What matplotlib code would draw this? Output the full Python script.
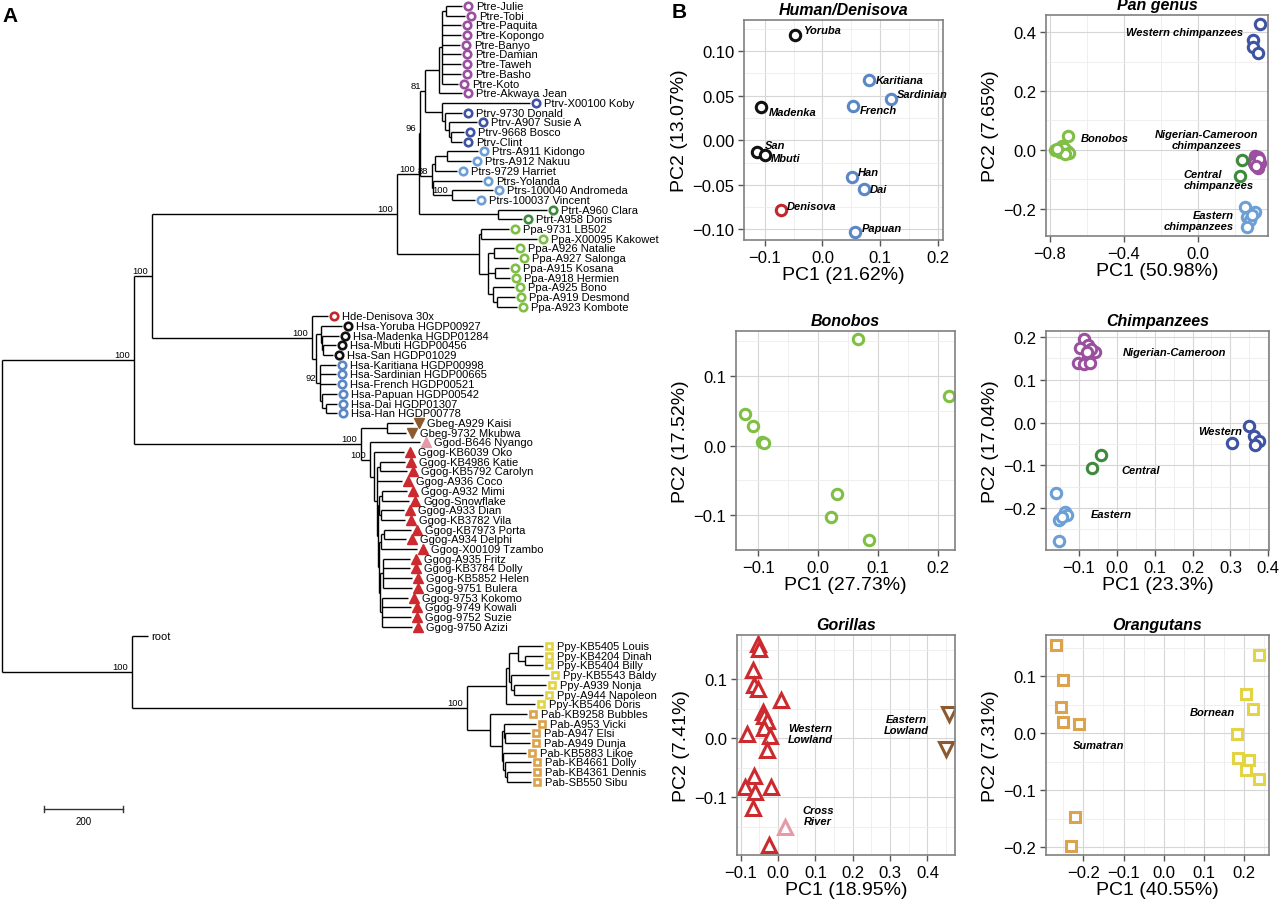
import numpy as np
import matplotlib
matplotlib.use('Agg')
import matplotlib.pyplot as plt
import matplotlib.transforms as mtransforms
from matplotlib.collections import LineCollection
from matplotlib.ticker import FixedLocator, AutoMinorLocator, FuncFormatter

plt.rcParams['font.family'] = ['Liberation Sans', 'DejaVu Sans']

# ---------------- tree data (newick pieces, branch lengths in tree units) ----------------
ptre_nwk = ("(((Ptre-Julie:40,Ptre-Tobi:48):10,Ptre-Paquita:48,Ptre-Kopongo:48,Ptre-Banyo:46,"
            "Ptre-Damian:48,Ptre-Taweh:48,Ptre-Basho:48,Ptre-Koto:40):8,Ptre-Akwaya Jean:58):35")
ptrv_nwk = ("(Ptrv-X00100 Koby:223,(Ptrv-9730 Donald:43,(Ptrv-A907 Susie A:71,"
            "(Ptrv-9668 Bosco:35,Ptrv-Clint:30):5):8):8):43")
ptrs_nwk = ("(((Ptrs-A911 Kidongo:78,Ptrs-A912 Nakuu:61):30,Ptrs-9729 Harriet:56):8,"
            "(Ptrs-Yolanda:124,(Ptrs-100040 Andromeda:104,Ptrs-100037 Vincent:58)100:48):3)88:30")
ptrt_nwk = "(Ptrt-A960 Clara:124,Ptrt-A958 Doris:61):200"
ppa_nwk = ("((Ppa-9731 LB502:73,Ppa-X00095 Kakowet:142):5,((Ppa-A926 Natalie:51,Ppa-A927 Salonga:61):15,"
           "(Ppa-A915 Kosana:35,Ppa-A918 Hermien:38):18,(Ppa-A925 Bono:53,"
           "(Ppa-A919 Desmond:46,Ppa-A923 Kombote:51):10):13):23):207")
homo_nwk = ("(Hde-Denisova 30x:40,((Hsa-Yoruba HGDP00927:53,(Hsa-Madenka HGDP01284:43,"
            "(Hsa-Mbuti HGDP00456:33,Hsa-San HGDP01029:25):3):3):13,(Hsa-Karitiana HGDP00998:40,"
            "Hsa-Sardinian HGDP00665:40,Hsa-French HGDP00521:40,(Hsa-Papuan HGDP00542:38,"
            "(Hsa-Dai HGDP01307:28,Hsa-Han HGDP00778:28):10):5)92:10):10)100:405")
gorilla_nwk = ("((Gbeg-A929 Kaisi:66,Gbeg-9732 Mkubwa:48):68,(Ggod-B646 Nyango:126,(Ggog-KB6039 Oko:76,"
               "((Ggog-KB4986 Katie:63,Ggog-KB5792 Carolyn:68):8,Ggog-A936 Coco:63,"
               "(((Ggog-A932 Mimi:63,Ggog-Snowflake:68):8,(Ggog-A933 Dian:58,Ggog-KB3782 Vila:61):5):3,"
               "(((Ggog-KB7973 Porta:68,Ggog-A934 Delphi:56):8,Ggog-X00109 Tzambo:91):5,"
               "((Ggog-A935 Fritz:66,Ggog-KB3784 Dolly:68,Ggog-KB5852 Helen:71,Ggog-9751 Bulera:73):8,"
               "(Ggog-9753 Kokomo:66,Ggog-9749 Kowali:73,Ggog-9752 Suzie:73,Ggog-9750 Azizi:76):5):3):3):3):8):8)100:25)100:574")
ppy_nwk = ("(((Ppy-KB5405 Louis:63,(Ppy-KB4204 Dinah:46,Ppy-KB5404 Billy:46):18):23,"
           "(Ppy-KB5543 Baldy:96,(Ppy-A939 Nonja:81,Ppy-A944 Napoleon:73):8):5):8,Ppy-KB5406 Doris:73):99")
pab_nwk = ("(Pab-KB9258 Bubbles:94,((Pab-A953 Vicki:83,(Pab-A947 Elsi:63,Pab-A949 Dunja:63):5):5,"
           "(Pab-KB5883 Likoe:58,(Pab-KB4661 Dolly:66,(Pab-KB4361 Dennis:61,Pab-SB550 Sibu:61):5):5):3):30):58")

chimp_nwk = f"((({ptre_nwk},{ptrv_nwk})81:13,{ptrs_nwk})96:3,{ptrt_nwk})100:56"
pan_nwk = f"({chimp_nwk},{ppa_nwk})100:620"
ape_nwk = f"(({pan_nwk},{homo_nwk})100:46,{gorilla_nwk})100:334"
outgroup_nwk = f"(root:40,({ppy_nwk},{pab_nwk})100:848)100:329"
tree_nwk = f"({ape_nwk},{outgroup_nwk});"

scale_bar_len = 200

african = ['Yoruba', 'Madenka', 'Mbuti', 'San']

# ---------------- PCA data ----------------
human_pops = ['Yoruba', 'Madenka', 'San', 'Mbuti', 'Karitiana', 'Sardinian', 'French', 'Han', 'Dai', 'Denisova', 'Papuan']
human_pc1 = [-0.048, -0.106, -0.113, -0.100, 0.080, 0.119, 0.053, 0.051, 0.072, -0.072, 0.057]
human_pc2 = [0.118, 0.037, -0.013, -0.017, 0.068, 0.046, 0.038, -0.041, -0.055, -0.078, -0.103]
human_group = ['afr', 'afr', 'afr', 'afr', 'nonafr', 'nonafr', 'nonafr', 'nonafr', 'nonafr', 'den', 'nonafr']

pan_pc1 = [0.335, 0.299, 0.296, 0.323,
           -0.701, -0.737, -0.773, -0.746, -0.710, -0.725, -0.700, -0.720, -0.760,
           0.310, 0.325, 0.300, 0.320, 0.335, 0.310, 0.325, 0.300, 0.330, 0.315,
           0.236, 0.227,
           0.254, 0.308, 0.263, 0.281, 0.267, 0.290]
pan_pc2 = [0.427, 0.374, 0.348, 0.329,
           0.049, 0.015, 0.001, -0.008, -0.005, 0.005, -0.012, -0.015, 0.002,
           -0.020, -0.025, -0.035, -0.040, -0.045, -0.050, -0.060, -0.045, -0.030, -0.055,
           -0.033, -0.087,
           -0.194, -0.210, -0.227, -0.238, -0.262, -0.220]
pan_group = ['ptrv'] * 4 + ['ppa'] * 9 + ['ptre'] * 10 + ['ptrt'] * 2 + ['ptrs'] * 6

bonobo_pc1 = [0.066, 0.218, -0.122, -0.109, -0.094, -0.090, 0.031, 0.022, 0.085]
bonobo_pc2 = [0.153, 0.072, 0.046, 0.029, 0.006, 0.004, -0.070, -0.102, -0.136]

chimp_pc1 = [-0.087, -0.075, -0.096, -0.058, -0.075, -0.102, -0.086, -0.067, -0.080, -0.070,
             0.350, 0.303, 0.363, 0.375, 0.366,
             -0.043, -0.066,
             -0.161, -0.137, -0.153, -0.132, -0.152, -0.145]
chimp_pc2 = [0.195, 0.181, 0.175, 0.166, 0.150, 0.140, 0.138, 0.173, 0.165, 0.140,
             -0.008, -0.049, -0.031, -0.044, -0.053,
             -0.077, -0.106,
             -0.164, -0.208, -0.227, -0.217, -0.276, -0.220]
chimp_group = ['ptre'] * 10 + ['ptrv'] * 5 + ['ptrt'] * 2 + ['ptrs'] * 6

gorilla_pc1 = [-0.053, -0.050, -0.068, -0.064, -0.053, 0.007, -0.041, -0.039, -0.029, -0.039,
               -0.082, -0.021, -0.029, -0.064, -0.088, -0.062, -0.020, -0.066, -0.023,
               0.019, 0.457, 0.450]
gorilla_pc2 = [0.159, 0.152, 0.116, 0.090, 0.084, 0.065, 0.044, 0.038, 0.029, 0.018,
               0.007, 0.004, -0.020, -0.064, -0.083, -0.091, -0.083, -0.119, -0.181,
               -0.150, 0.041, -0.019]
gorilla_group = ['ggog'] * 19 + ['ggod'] + ['gbeg'] * 2

orang_pc1 = [-0.268, -0.250, -0.256, -0.250, -0.212, -0.222, -0.231,
             0.238, 0.204, 0.221, 0.182, 0.186, 0.213, 0.206, 0.238]
orang_pc2 = [0.154, 0.093, 0.045, 0.019, 0.015, -0.147, -0.198,
             0.137, 0.068, 0.043, -0.002, -0.043, -0.047, -0.065, -0.081]
orang_group = ['pab'] * 7 + ['ppy'] * 8

colors = {
    'ptre': '#9b4f9f', 'ptrv': '#3f52a3', 'ptrs': '#6b9fd6', 'ptrt': '#3d8a3d', 'ppa': '#80bf45',
    'den': '#c1272d', 'afr': '#111111', 'nonafr': '#5b87c6',
    'ggog': '#cc2a2e', 'ggod': '#e59aa8', 'gbeg': '#8c5a2e', 'ppy': '#e3d443', 'pab': '#dca24c',
}
markers = {'ptre': 'o', 'ptrv': 'o', 'ptrs': 'o', 'ptrt': 'o', 'ppa': 'o', 'den': 'o', 'afr': 'o',
           'nonafr': 'o', 'ggog': '^', 'ggod': '^', 'gbeg': 'v', 'ppy': 's', 'pab': 's'}


def parse_newick(s):
    pos = 0

    def node():
        nonlocal pos
        children = []
        if s[pos] == '(':
            pos += 1
            children.append(node())
            while s[pos] == ',':
                pos += 1
                children.append(node())
            pos += 1
        start = pos
        while s[pos] not in ':,);':
            pos += 1
        name = s[start:pos].strip()
        length = 0.0
        if s[pos] == ':':
            pos += 1
            start = pos
            while s[pos] not in ',);':
                pos += 1
            length = float(s[start:pos])
        return {'name': name, 'len': length, 'children': children}

    return node()


def layout(nd, x0, leaves):
    nd['x'] = x0 + nd['len']
    if nd['children']:
        for c in nd['children']:
            layout(c, nd['x'], leaves)
        nd['y'] = (nd['children'][0]['y'] + nd['children'][-1]['y']) / 2
    else:
        nd['y'] = len(leaves)
        leaves.append(nd)


def leaf_group(name):
    pre = name.split('-')[0]
    if pre == 'Hsa':
        return 'afr' if name.split('-')[1].split()[0] in african else 'nonafr'
    if pre == 'Hde':
        return 'den'
    return pre.lower()


fig = plt.figure(figsize=(12.8, 9.04), dpi=100)

# ---------------- panel A: tree ----------------
axt = fig.add_axes([0, 0, 620 / 1280, 1])
axt.set_xlim(-5.1, 1565)
axt.set_ylim(92.5, -0.72)
axt.axis('off')

tree = parse_newick(tree_nwk)
leaves = []
layout(tree, 0.0, leaves)

segs = []


def collect(nd):
    if not nd['children']:
        return
    ys = [c['y'] for c in nd['children']]
    segs.append([(nd['x'], ys[0]), (nd['x'], ys[-1])])
    for c in nd['children']:
        segs.append([(nd['x'], c['y']), (c['x'], c['y'])])
        collect(c)
    if nd['name']:
        axt.annotate(nd['name'], (nd['x'], nd['y']), xytext=(-4, 1), textcoords='offset pixels',
                     ha='right', va='bottom', fontsize=6.8, clip_on=False)


collect(tree)
axt.add_collection(LineCollection(segs, colors='black', linewidths=1.0))

mk_tr = mtransforms.offset_copy(axt.transData, fig=fig, x=6, y=0, units='dots')
tx_tr = mtransforms.offset_copy(axt.transData, fig=fig, x=14, y=0, units='dots')
root_tr = mtransforms.offset_copy(axt.transData, fig=fig, x=4, y=0, units='dots')
for lf in leaves:
    if lf['name'] == 'root':
        axt.text(lf['x'], lf['y'], 'root', transform=root_tr, va='center', fontsize=8, clip_on=False)
        continue
    g = leaf_group(lf['name'])
    m = markers[g]
    ms = 5.4 if m == 'o' else (6.5 if m in '^v' else 5.0)
    if m in '^v':
        axt.plot(lf['x'], lf['y'], marker=m, ms=ms, mfc=colors[g], mec=colors[g], mew=1.0,
                 transform=mk_tr, clip_on=False)
    else:
        axt.plot(lf['x'], lf['y'], marker=m, ms=ms, mfc='white', mec=colors[g], mew=1.9,
                 transform=mk_tr, clip_on=False)
    axt.text(lf['x'], lf['y'], lf['name'], transform=tx_tr, va='center', fontsize=8, clip_on=False)

# scale bar
sb_x0, sb_y = 106, 82.8
axt.plot([sb_x0, sb_x0 + scale_bar_len], [sb_y, sb_y], color='#333333', lw=1.0)
axt.plot([sb_x0, sb_x0], [sb_y - 0.35, sb_y + 0.35], color='#333333', lw=1.0)
axt.plot([sb_x0 + scale_bar_len, sb_x0 + scale_bar_len], [sb_y - 0.35, sb_y + 0.35], color='#333333', lw=1.0)
axt.text(sb_x0 + scale_bar_len / 2, sb_y + 1.2, str(scale_bar_len), ha='center', va='center', fontsize=7)

fig.text(2 / 1280, 1 - 16 / 904, 'A', fontsize=15, fontweight='bold', va='center')
fig.text(672 / 1280, 1 - 12 / 904, 'B', fontsize=15, fontweight='bold', va='center')

# ---------------- panel B: PCA ----------------


def fmt(n):
    return FuncFormatter(lambda v, p: f'{v:.{n}f}'.replace('-', '\u2212'))


def pca_axes(box, title, xlabel, ylabel, xlim, ylim, xticks, yticks, xd=1, yd=1):
    left, right, top, bottom = box
    ax = fig.add_axes([left / 1280, 1 - bottom / 904, (right - left) / 1280, (bottom - top) / 904])
    ax.set_xlim(xlim)
    ax.set_ylim(ylim)
    ax.xaxis.set_major_locator(FixedLocator(xticks))
    ax.yaxis.set_major_locator(FixedLocator(yticks))
    ax.xaxis.set_major_formatter(fmt(xd))
    ax.yaxis.set_major_formatter(fmt(yd))
    ax.xaxis.set_minor_locator(AutoMinorLocator(2))
    ax.yaxis.set_minor_locator(AutoMinorLocator(2))
    ax.grid(which='major', color='#d6d6d6', lw=0.8)
    ax.grid(which='minor', color='#ededed', lw=0.6)
    ax.set_axisbelow(True)
    for sp in ax.spines.values():
        sp.set_color('#808080')
        sp.set_linewidth(1.2)
    ax.tick_params(which='major', length=4, width=1, color='#555555', labelsize=12, pad=3, labelcolor='black')
    ax.tick_params(which='minor', length=0)
    ax.set_title(title, fontsize=11.5, fontweight='bold', style='italic', pad=4)
    ax.set_xlabel(xlabel, fontsize=14, labelpad=1)
    ax.set_ylabel(ylabel, fontsize=14, labelpad=3)
    return ax


def scatter_groups(ax, pc1, pc2, groups, ms=7.5, mew=2.2):
    pc1, pc2, groups = np.asarray(pc1), np.asarray(pc2), np.asarray(groups)
    for g in dict.fromkeys(groups):
        sel = groups == g
        m = markers[g]
        size = ms + (2.3 if m in '^v' else 0) - (0.5 if m == 's' else 0)
        ax.plot(pc1[sel], pc2[sel], ls='none', marker=m, ms=size, mfc='white', mec=colors[g], mew=mew)


lab_kw = dict(fontsize=8, fontweight='bold', style='italic')

# Human / Denisova
ax = pca_axes((744, 943, 21, 241), 'Human/Denisova', 'PC1 (21.62%)', 'PC2 (13.07%)',
              (-0.136, 0.209), (-0.112, 0.135), [-0.1, 0.0, 0.1, 0.2], [-0.1, -0.05, 0.0, 0.05, 0.1], 1, 2)
scatter_groups(ax, human_pc1, human_pc2, human_group)
human_offsets = [(8, 5), (7, -5), (8, 7), (6, -3), (7, 0), (6, 5), (7, -4), (6, 5), (6, 0), (6, 4), (6, 4)]
for name, x, y, off in zip(human_pops, human_pc1, human_pc2, human_offsets):
    ax.annotate(name, (x, y), xytext=off, textcoords='offset pixels', ha='left', va='center', **lab_kw)

# Pan genus
ax = pca_axes((1046, 1268, 16, 237), 'Pan genus', 'PC1 (50.98%)', 'PC2 (7.65%)',
              (-0.822, 0.378), (-0.292, 0.458), [-0.8, -0.4, 0.0], [-0.2, 0.0, 0.2, 0.4])
scatter_groups(ax, pan_pc1, pan_pc2, pan_group)
pan_labels = ['Western chimpanzees', 'Bonobos', 'Nigerian-Cameroon\nchimpanzees', 'Central\nchimpanzees',
              'Eastern\nchimpanzees']
pan_lab_x = [0.243, -0.632, 0.045, -0.08, 0.195]
pan_lab_y = [0.40, 0.04, 0.035, -0.10, -0.24]
pan_lab_ha = ['right', 'left', 'center', 'left', 'right']
for t, x, y, ha in zip(pan_labels, pan_lab_x, pan_lab_y, pan_lab_ha):
    ax.text(x, y, t, ha=ha, va='center', multialignment=ha, linespacing=1.1, **lab_kw)

# Bonobos
ax = pca_axes((736, 955, 332, 551), 'Bonobos', 'PC1 (27.73%)', 'PC2 (17.52%)',
              (-0.137, 0.228), (-0.150, 0.165), [-0.1, 0.0, 0.1, 0.2], [-0.1, 0.0, 0.1])
scatter_groups(ax, bonobo_pc1, bonobo_pc2, ['ppa'] * len(bonobo_pc1))

# Chimpanzees
ax = pca_axes((1046, 1269, 332, 551), 'Chimpanzees', 'PC1 (23.3%)', 'PC2 (17.04%)',
              (-0.187, 0.402), (-0.298, 0.214), [-0.1, 0.0, 0.1, 0.2, 0.3, 0.4], [-0.2, -0.1, 0.0, 0.1, 0.2])
scatter_groups(ax, chimp_pc1, chimp_pc2, chimp_group)
chimp_labels = ['Nigerian-Cameroon', 'Western', 'Central', 'Eastern']
chimp_lab_x = [0.016, 0.33, 0.013, -0.068]
chimp_lab_y = [0.166, -0.019, -0.11, -0.215]
chimp_lab_ha = ['left', 'right', 'left', 'left']
for t, x, y, ha in zip(chimp_labels, chimp_lab_x, chimp_lab_y, chimp_lab_ha):
    ax.text(x, y, t, ha=ha, va='center', **lab_kw)

# Gorillas
ax = pca_axes((737, 955, 636, 856), 'Gorillas', 'PC1 (18.95%)', 'PC2 (7.41%)',
              (-0.11, 0.474), (-0.198, 0.175), [-0.1, 0.0, 0.1, 0.2, 0.3, 0.4], [-0.1, 0.0, 0.1])
scatter_groups(ax, gorilla_pc1, gorilla_pc2, gorilla_group)
gor_labels = ['Western\nLowland', 'Eastern\nLowland', 'Cross\nRiver']
gor_lab_x = [0.086, 0.343, 0.107]
gor_lab_y = [0.008, 0.023, -0.131]
for t, x, y in zip(gor_labels, gor_lab_x, gor_lab_y):
    ax.text(x, y, t, ha='center', va='center', multialignment='center', linespacing=1.1, **lab_kw)

# Orangutans
ax = pca_axes((1046, 1269, 636, 856), 'Orangutans', 'PC1 (40.55%)', 'PC2 (7.31%)',
              (-0.293, 0.262), (-0.214, 0.172), [-0.2, -0.1, 0.0, 0.1, 0.2], [-0.2, -0.1, 0.0, 0.1])
scatter_groups(ax, orang_pc1, orang_pc2, orang_group)
ax.text(0.066, 0.037, 'Bornean', ha='left', va='center', **lab_kw)
ax.text(-0.226, -0.021, 'Sumatran', ha='left', va='center', **lab_kw)

fig.savefig('out.png', dpi=100)
